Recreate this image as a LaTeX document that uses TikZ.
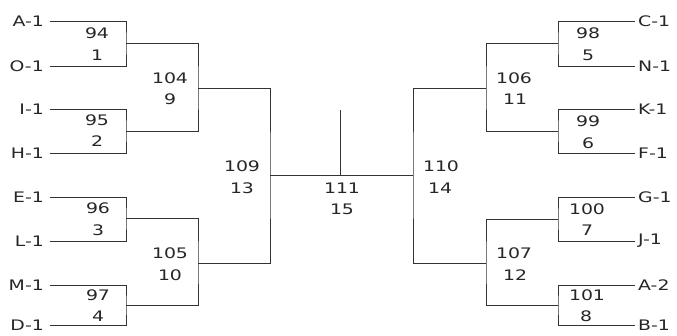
\documentclass[tikz,border=0pt]{standalone}
\usepackage{fontspec}
\newfontfamily\vfont[FakeStretch=1.3]{DejaVu Sans}
\begin{document}
\begin{tikzpicture}[x=1pt,y=-1pt,
  lbl/.style={font=\vfont\fontsize{14.5}{16}\selectfont, text=black!85, inner sep=0pt},
  lname/.style={lbl, anchor=east},
  rname/.style={lbl, anchor=west},
  num/.style={lbl, anchor=center},
  br/.style={draw=black!80, line width=0.9pt}]
\useasboundingbox (0,0) rectangle (677,335);
% left names
\node[lname] (A1) at (44,21) {A-1};
\node[lname] (O1) at (44,66) {O-1};
\node[lname] (I1) at (44,109) {I-1};
\node[lname] (H1) at (44,153) {H-1};
\node[lname] (E1) at (44,197) {E-1};
\node[lname] (L1) at (44,241) {L-1};
\node[lname] (M1) at (44,285) {M-1};
\node[lname] (D1) at (44,325) {D-1};
% right names
\node[rname] (C1) at (638,21) {C-1};
\node[rname] (N1) at (638,66) {N-1};
\node[rname] (K1) at (638,109) {K-1};
\node[rname] (F1) at (638,153) {F-1};
\node[rname] (G1) at (638,197) {G-1};
\node[rname] (J1) at (638,241) {J-1};
\node[rname] (A2) at (638,285) {A-2};
\node[rname] (B1) at (638,325) {B-1};
% junctions
\coordinate (j94) at (126,43);
\coordinate (j95) at (126,131);
\coordinate (j96) at (126,218);
\coordinate (j97) at (126,305);
\coordinate (j104) at (198,88);
\coordinate (j105) at (198,263);
\coordinate (j109) at (270,175);
\coordinate (j111) at (340,175);
\coordinate (t111) at (340,110);
\coordinate (j110) at (413,175);
\coordinate (j106) at (486,88);
\coordinate (j107) at (486,263);
\coordinate (j98) at (558,43);
\coordinate (j99) at (558,131);
\coordinate (j100) at (558,219);
\coordinate (j101) at (558,305);
% left brackets
\draw[br] ([xshift=6pt]A1.east) -| (j94) |- ([xshift=6pt]O1.east);
\draw[br] ([xshift=6pt]I1.east) -| (j95) |- ([xshift=6pt]H1.east);
\draw[br] ([xshift=6pt]E1.east) -| (j96) |- ([xshift=6pt]L1.east);
\draw[br] ([xshift=6pt]M1.east) -| (j97) |- ([xshift=6pt]D1.east);
\draw[br] (j94) -| (j104) |- (j95);
\draw[br] (j96) -| (j105) |- (j97);
\draw[br] (j104) -| (j109) |- (j105);
% right brackets
\draw[br] ([xshift=-3pt]C1.west) -| (j98) |- ([xshift=-3pt]N1.west);
\draw[br] ([xshift=-3pt]K1.west) -| (j99) |- ([xshift=-3pt]F1.west);
\draw[br] ([xshift=-3pt]G1.west) -| (j100) |- ([xshift=-3pt]J1.west);
\draw[br] ([xshift=-3pt]A2.west) -| (j101) |- ([xshift=-3pt]B1.west);
\draw[br] (j98) -| (j106) |- (j99);
\draw[br] (j100) -| (j107) |- (j101);
\draw[br] (j106) -| (j110) |- (j107);
% final
\draw[br] (j109) -- (j110);
\draw[br] (j111) -- (t111);
% numbers left
\node[num] (n94) at (97,33) {94};
\node[num] (n1) at (97,55) {1};
\node[num] (n95) at (97,120) {95};
\node[num] (n2) at (97,141) {2};
\node[num] (n104) at (170,78) {104};
\node[num] (n9) at (170,99) {9};
\node[num] (n96) at (98,208) {96};
\node[num] (n3) at (98,230) {3};
\node[num] (n97) at (98,295) {97};
\node[num] (n4) at (98,316) {4};
\node[num] (n105) at (170,253) {105};
\node[num] (n10) at (170,275) {10};
% center
\node[num] (n109) at (242,166) {109};
\node[num] (n13) at (242,188) {13};
\node[num] (n111) at (342,188) {111};
\node[num] (n15) at (342,209) {15};
\node[num] (n110) at (441,166) {110};
\node[num] (n14) at (440,188) {14};
% numbers right
\node[num] (n98) at (588,33) {98};
\node[num] (n5) at (588,55) {5};
\node[num] (n99) at (588,121) {99};
\node[num] (n6) at (588,143) {6};
\node[num] (n106) at (514,78) {106};
\node[num] (n11) at (515,99) {11};
\node[num] (n100) at (587,209) {100};
\node[num] (n7) at (587,230) {7};
\node[num] (n101) at (587,295) {101};
\node[num] (n8) at (586,316) {8};
\node[num] (n107) at (514,253) {107};
\node[num] (n12) at (515,275) {12};
\end{tikzpicture}
\end{document}
